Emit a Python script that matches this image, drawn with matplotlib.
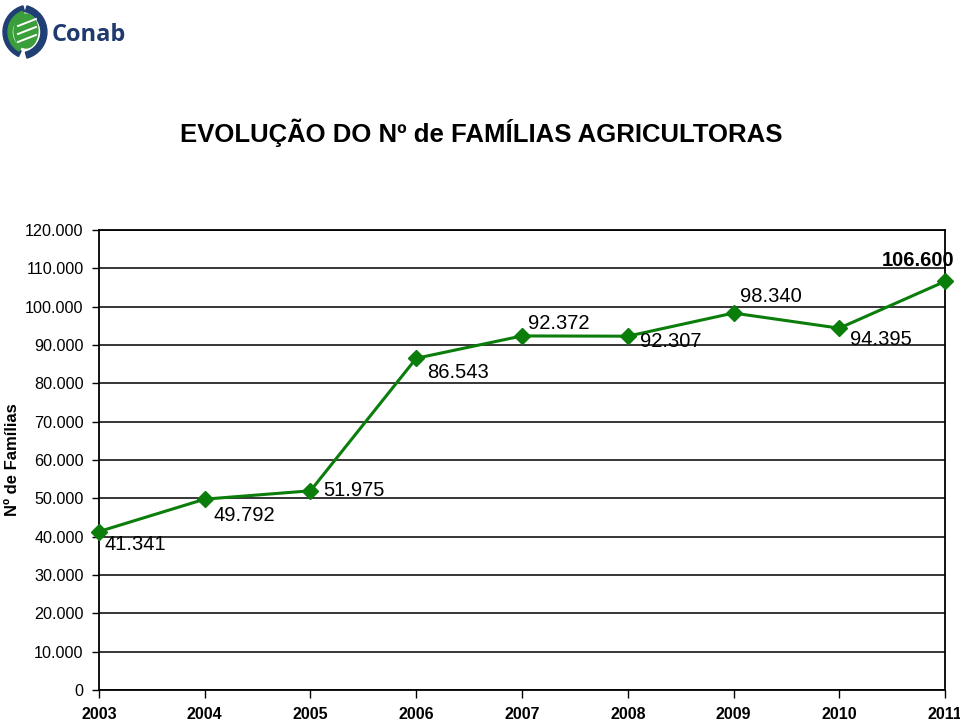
import matplotlib
matplotlib.use('Agg')
import matplotlib.pyplot as plt
from matplotlib.patches import Ellipse, Wedge

plt.rcParams['font.family'] = ['Liberation Sans', 'DejaVu Sans']

# dados
anos = ['2003', '2004', '2005', '2006', '2007', '2008', '2009', '2010', '2011']
familias = [41341, 49792, 51975, 86543, 92372, 92307, 98340, 94395, 106600]
rotulos = ['41.341', '49.792', '51.975', '86.543', '92.372', '92.307', '98.340', '94.395', '106.600']
# deslocamento dos rotulos (pontos)
offsets = [(4, -9), (6, -12), (9, 0), (8, -10), (4, 9), (9, -4), (5, 12), (8, -8), (7, 15)]

def fmt(v):
    return f'{v:,}'.replace(',', '.')

fig = plt.figure(figsize=(9.6, 7.22), dpi=100)
ax = fig.add_axes([0.1031, 0.0443, 0.8813, 0.6371])

ax.plot(range(len(anos)), familias, color='#0b7d0b', lw=2.2, marker='D',
        markersize=8, zorder=3, clip_on=False)

for i, (v, r) in enumerate(zip(familias, rotulos)):
    dx, dy = offsets[i]
    last = i == len(anos) - 1
    ax.annotate(r, (i, v), xytext=(dx, dy), textcoords='offset points',
                ha='right' if last else 'left', va='center', fontsize=14.5,
                fontweight='bold' if last else 'normal', annotation_clip=False)

ax.set_xlim(0, len(anos) - 1)
ax.set_ylim(0, 120000)
yt = list(range(0, 120001, 10000))
ax.set_yticks(yt)
ax.set_yticklabels([fmt(v) for v in yt], fontsize=11.6)
ax.set_xticks(range(len(anos)))
ax.set_xticklabels(anos, fontsize=11.5, fontweight='bold')
ax.tick_params(axis='y', length=5, width=1, pad=6)
ax.tick_params(axis='x', length=6, width=1, pad=6)
ax.grid(axis='y', color='black', lw=1.1)
for s in ax.spines.values():
    s.set_linewidth(1.3)

fig.text(0.0135, 0.363, 'Nº de Famílias', rotation=90, ha='center', va='center',
         fontsize=12, fontweight='bold')
fig.text(0.501, 0.816, 'EVOLUÇÃO DO Nº de FAMÍLIAS AGRICULTORAS', ha='center',
         va='center', fontsize=18.5, fontweight='bold')

# logo Conab
lax = fig.add_axes([0, 0.91, 0.052, 0.09])
lax.set_xlim(0, 50)
lax.set_ylim(0, 65)
lax.axis('off')
lax.add_patch(Wedge((30, 33), 27, 105, 245, width=6, color='#1f3f75'))
lax.add_patch(Wedge((20, 33), 27, -75, 75, width=6, color='#1f3f75'))
lax.add_patch(Wedge((30, 33), 22, 110, 240, width=4, color='#3a9e3a'))
lax.add_patch(Ellipse((26, 34), 24, 34, color='#3a9e3a'))
for yy in (28, 36, 44):
    lax.plot([18, 36], [yy - 5, yy + 2], color='white', lw=1.4)
fig.text(0.054, 0.952, 'Conab', fontsize=17, fontweight='bold', color='#1f3a6e',
         ha='left', va='center', family=['Open Sans', 'DejaVu Sans'])

fig.savefig('out.png', dpi=100)
